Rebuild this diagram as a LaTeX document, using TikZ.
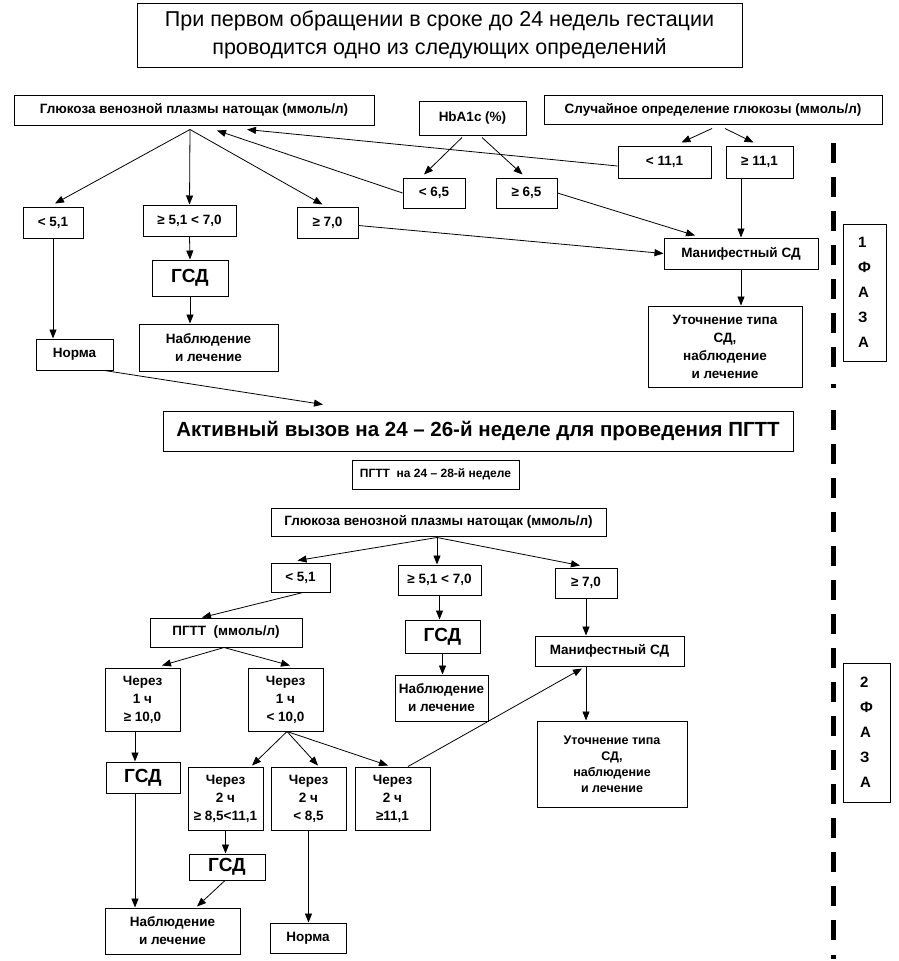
\documentclass[tikz,border=0pt]{standalone}
\usepackage{fontspec}
\setmainfont{Liberation Sans}
\usetikzlibrary{arrows.meta,calc}
\tikzset{
  box/.style={draw, line width=1pt, inner sep=0pt, align=center, font=\bfseries\fontsize{13.5}{18}\selectfont},
  bigtxt/.style={font=\bfseries\fontsize{19}{21}\selectfont},
  smalltxt/.style={font=\bfseries\fontsize{12.5}{16}\selectfont},
  phasetxt/.style={align=left, font=\bfseries\fontsize{15}{25}\selectfont},
  arr/.style={-{Triangle[length=9pt,width=7pt]}, line width=0.8pt},
  dashline/.style={line width=5pt, dash pattern=on 20pt off 14pt}
}
\begin{document}
\begin{tikzpicture}[x=1pt,y=-1pt]
\useasboundingbox (0,0) rectangle (898,961);
% ---------- Phase 1 ----------
\node[box, minimum width=605pt, minimum height=64pt, font=\fontsize{21.5}{28}\selectfont] (title) at (439.5,35) {При первом обращении в сроке до 24 недель гестации\\проводится одно из следующих определений};
\node[box, minimum width=360pt, minimum height=30pt] (gl1) at (194,110) {Глюкоза венозной плазмы натощак (ммоль/л)};
\node[box, minimum width=107pt, minimum height=34pt] (hb) at (472.5,118) {HbA1c (\%)};
\node[box, minimum width=338pt, minimum height=29pt] (rnd) at (713,109.5) {Случайное определение глюкозы (ммоль/л)};
\node[box, minimum width=60pt, minimum height=31pt] (lt51) at (53,222.5) {< 5,1};
\node[box, minimum width=93pt, minimum height=31pt] (mid1) at (189.5,220.5) {≥ 5,1 < 7,0};
\node[box, minimum width=61pt, minimum height=31pt] (ge70) at (327.5,222.5) {≥ 7,0};
\node[box, minimum width=62pt, minimum height=30pt] (lt65) at (434,193) {< 6,5};
\node[box, minimum width=61pt, minimum height=30pt] (ge65) at (526.5,193) {≥ 6,5};
\node[box, minimum width=93pt, minimum height=32pt] (lt111) at (664.5,162) {< 11,1};
\node[box, minimum width=67pt, minimum height=32pt] (ge111) at (759.5,162) {≥ 11,1};
\node[box, minimum width=154pt, minimum height=31pt] (man1) at (741,253.5) {Манифестный СД};
\node[box, bigtxt, minimum width=76pt, minimum height=36pt] (gsd1) at (190,278) {ГСД};
\node[box, minimum width=139pt, minimum height=47pt] (nab1) at (208.5,347.5) {Наблюдение\\и лечение};
\node[box, minimum width=77pt, minimum height=31pt] (norm1) at (74.5,354.5) {Норма};
\node[box, minimum width=154pt, minimum height=81pt] (ut1) at (725,346.5) {Уточнение типа\\СД,\\наблюдение\\и лечение};
\node[box, phasetxt, minimum width=43pt, minimum height=137pt] (ph1) at (864.5,292.5) {1\\Ф\\А\\З\\А};
\node[box, minimum width=630pt, minimum height=40pt, font=\bfseries\fontsize{20.5}{22}\selectfont] (active) at (478,431) {Активный вызов на 24 – 26-й неделе для проведения ПГТТ};
\node[box, minimum width=167pt, minimum height=29pt, font=\bfseries\fontsize{12}{14}\selectfont] (p2428) at (435.5,474.5) {ПГТТ\ \ на 24 – 28-й неделе};
% ---------- Phase 2 ----------
\node[box, minimum width=335pt, minimum height=28pt] (gl2) at (438.5,522) {Глюкоза венозной плазмы натощак (ммоль/л)};
\node[box, minimum width=59pt, minimum height=29pt] (lt51b) at (300.5,577.5) {< 5,1};
\node[box, minimum width=83pt, minimum height=30pt] (mid2) at (439.5,580) {≥ 5,1 < 7,0};
\node[box, minimum width=62pt, minimum height=30pt] (ge70b) at (586,583) {≥ 7,0};
\node[box, minimum width=152pt, minimum height=29pt] (pgtt) at (226,632.5) {ПГТТ\ \ (ммоль/л)};
\node[box, bigtxt, minimum width=75pt, minimum height=33pt] (gsd2) at (442.5,636.5) {ГСД};
\node[box, minimum width=93pt, minimum height=46pt] (nab2) at (441.5,698) {Наблюдение\\и лечение};
\node[box, minimum width=149pt, minimum height=30pt] (man2) at (609.5,651) {Манифестный СД};
\node[box, smalltxt, minimum width=150pt, minimum height=86pt] (ut2) at (612,764) {Уточнение типа\\СД,\\наблюдение\\и лечение};
\node[box, phasetxt, minimum width=47pt, minimum height=139pt] (ph2) at (866.5,732.5) {2\\Ф\\А\\З\\А};
\node[box, minimum width=75pt, minimum height=63pt] (c1a) at (142.5,699.5) {Через\\1 ч\\≥ 10,0};
\node[box, minimum width=75pt, minimum height=63pt] (c1b) at (285.5,699.5) {Через\\1 ч\\< 10,0};
\node[box, bigtxt, minimum width=74pt, minimum height=31pt] (gsd3) at (143,777.5) {ГСД};
\node[box, minimum width=75pt, minimum height=63pt] (c2a) at (225.5,798.5) {Через\\2 ч\\≥ 8,5<11,1};
\node[box, minimum width=75pt, minimum height=63pt] (c2b) at (308.5,798.5) {Через\\2 ч\\< 8,5};
\node[box, minimum width=75pt, minimum height=63pt] (c2c) at (392.5,798.5) {Через\\2 ч\\≥11,1};
\node[box, bigtxt, minimum width=76pt, minimum height=26pt] (gsd4) at (227,867) {ГСД};
\node[box, minimum width=135pt, minimum height=46pt] (nab3) at (172.5,931) {Наблюдение\\и лечение};
\node[box, minimum width=76pt, minimum height=30pt] (norm2) at (308,938) {Норма};
% ---------- connectors phase 1 ----------
\coordinate (g1o) at ([xshift=-4pt,yshift=-4pt]gl1.south);
\draw[arr] (g1o) -- ([xshift=2pt,yshift=3pt]lt51.north);
\draw[arr] (g1o) -- (mid1.north);
\draw[arr] (g1o) -- ([xshift=-5pt,yshift=2pt]ge70.north);
\draw[arr] (lt65.west) -- ([xshift=23pt,yshift=-5pt]gl1.south);
\draw[arr] ([yshift=-4pt]lt111.west) -- ([xshift=53pt,yshift=-4pt]gl1.south);
\draw[arr] ([xshift=-10.5pt,yshift=-2pt]hb.south) -- ([xshift=-10pt,yshift=3pt]lt65.north);
\draw[arr] ([xshift=9.5pt,yshift=-2pt]hb.south) -- ([xshift=-4pt,yshift=3pt]ge65.north);
\draw[arr] ([xshift=-1pt,yshift=-4pt]rnd.south) -- ([xshift=17pt,yshift=3pt]lt111.north);
\draw[arr] ([xshift=12pt,yshift=-4pt]rnd.south) -- ([xshift=-6pt,yshift=3pt]ge111.north);
\draw[arr] ([xshift=-18.5pt]ge111.south) -- (man1.north);
\draw[arr] (ge65.east) -- ([xshift=-46pt,yshift=2pt]man1.north);
\draw[arr] ([yshift=-3pt]ge70.east) -- (man1.west);
\draw[arr] (man1.south) -- ([xshift=16pt]ut1.north);
\draw[arr] (mid1.south) -- (gsd1.north);
\draw[arr] (gsd1.south) -- ([xshift=-18.5pt]nab1.north);
\draw[arr] (lt51.south) -- ([xshift=-21.5pt]norm1.north);
\draw[arr] ([xshift=30pt]norm1.south) -- ([xshift=-155pt,yshift=6pt]active.north);
% ---------- connectors phase 2 ----------
\coordinate (g2o) at ([xshift=-1.5pt,yshift=-1pt]gl2.south);
\draw[arr] (g2o) -- ([xshift=-3pt,yshift=2pt]lt51b.north);
\draw[arr] (g2o) -- (g2o |- mid2.north);
\draw[arr] (g2o) -- ([xshift=-6pt,yshift=2pt]ge70b.north);
\draw[arr] ([xshift=2.5pt]lt51b.south) -- ([xshift=-24pt]pgtt.north);
\draw[arr] (mid2.south) -- (mid2.south |- gsd2.north);
\draw[arr] (gsd2.south) -- (gsd2.south |- nab2.north);
\draw[arr] (ge70b.south) -- (ge70b.south |- man2.north);
\draw[arr] ([xshift=-23.5pt]man2.south) -- ([xshift=-23.5pt]man2.south |- ut2.north);
\coordinate (po) at ([xshift=-2pt]pgtt.south);
\draw[arr] (po) -- ([xshift=19.5pt,yshift=2pt]c1a.north);
\draw[arr] (po) -- ([xshift=4.5pt,yshift=2pt]c1b.north);
\draw[arr] ([xshift=-7.5pt]c1a.south) -- ([xshift=-7.5pt]c1a.south |- gsd3.north);
\draw[arr] ([xshift=-8pt]gsd3.south) -- ([xshift=-8pt]gsd3.south |- nab3.north);
\coordinate (co) at ([xshift=1.5pt]c1b.south);
\draw[arr] (co) -- ([xshift=26.5pt,yshift=1pt]c2a.north);
\draw[arr] (co) -- ([xshift=9.5pt,yshift=1pt]c2b.north);
\draw[arr] (co) -- ([xshift=-4.5pt,yshift=1pt]c2c.north);
\draw[arr] ([xshift=15.5pt]c2c.north) -- ([xshift=-27.5pt,yshift=-2pt]man2.south);
\draw[arr] (c2a.south) -- (c2a.south |- gsd4.north);
\draw[arr] ([xshift=-2pt]gsd4.south) -- ([xshift=24.5pt,yshift=1pt]nab3.north);
\draw[arr] (c2b.south) -- (c2b.south |- norm2.north);
% ---------- phase separator ----------
\draw[dashline] (833,143) -- (833,367);
\draw[line width=5pt] (833,384) -- (833,388);
\draw[dashline] (833,410) -- (833,943);
\draw[line width=5pt] (833,955) -- (833,959);
\end{tikzpicture}
\end{document}
